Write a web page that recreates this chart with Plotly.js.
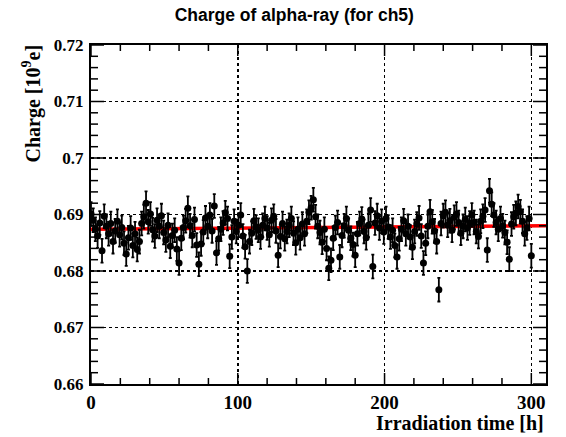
<!DOCTYPE html>
<html>
<head>
<meta charset="utf-8">
<script src="https://cdn.plot.ly/plotly-3.0.1.min.js"></script>
<style>html,body{margin:0;padding:0;background:#fff;}#chart{width:566px;height:437px;}</style>
</head>
<body>
<div id="chart"></div>
<script>
// Irradiation time [h] (one point every 1.5 h)
const timeH = [];
for (let k = 0; k <= 200; k++) timeH.push(k * 1.5);

// Charge [10^9 e] (10 values per row)
const charge = [
  0.6901, 0.6890, 0.6874, 0.6862, 0.6885, 0.6836, 0.6897, 0.6879, 0.6866, 0.6884,
  0.6852, 0.6871, 0.6888, 0.6864, 0.6877, 0.6849, 0.6830, 0.6859, 0.6876, 0.6845,
  0.6866, 0.6838, 0.6852, 0.6884, 0.6896, 0.6920, 0.6887, 0.6901, 0.6873, 0.6862,
  0.6890, 0.6879, 0.6898, 0.6868, 0.6855, 0.6881, 0.6844, 0.6863, 0.6872, 0.6839,
  0.6814, 0.6858, 0.6877, 0.6889, 0.6911, 0.6880, 0.6863, 0.6891, 0.6846, 0.6812,
  0.6848, 0.6869, 0.6894, 0.6879, 0.6899, 0.6871, 0.6915, 0.6832, 0.6857, 0.6874,
  0.6885, 0.6903, 0.6893, 0.6826, 0.6860, 0.6888, 0.6870, 0.6881, 0.6899, 0.6862,
  0.6843, 0.6800, 0.6852, 0.6867, 0.6889, 0.6878, 0.6872, 0.6860, 0.6881, 0.6893,
  0.6876, 0.6864, 0.6890, 0.6897, 0.6871, 0.6828, 0.6861, 0.6884, 0.6857, 0.6870,
  0.6881, 0.6893, 0.6867, 0.6850, 0.6874, 0.6859, 0.6883, 0.6866, 0.6888, 0.6904,
  0.6912, 0.6926, 0.6896, 0.6879, 0.6868, 0.6851, 0.6874, 0.6840, 0.6805, 0.6819,
  0.6858, 0.6877, 0.6886, 0.6825, 0.6863, 0.6880, 0.6893, 0.6872, 0.6858, 0.6847,
  0.6828, 0.6866, 0.6884, 0.6892, 0.6870, 0.6859, 0.6881, 0.6908, 0.6808, 0.6885,
  0.6898, 0.6876, 0.6888, 0.6869, 0.6893, 0.6878, 0.6860, 0.6872, 0.6845, 0.6825,
  0.6857, 0.6874, 0.6889, 0.6866, 0.6879, 0.6860, 0.6842, 0.6870, 0.6883, 0.6894,
  0.6862, 0.6814, 0.6849, 0.6879, 0.6905, 0.6887, 0.6871, 0.6852, 0.6767, 0.6884,
  0.6898, 0.6904, 0.6881, 0.6889, 0.6872, 0.6895, 0.6901, 0.6886, 0.6867, 0.6879,
  0.6891, 0.6876, 0.6885, 0.6899, 0.6886, 0.6870, 0.6861, 0.6888, 0.6897, 0.6908,
  0.6837, 0.6942, 0.6918, 0.6899, 0.6886, 0.6874, 0.6893, 0.6880, 0.6868, 0.6851,
  0.6821, 0.6883, 0.6896, 0.6902, 0.6914, 0.6905, 0.6888, 0.6866, 0.6876, 0.6893,
  0.6827
];
// statistical error on each point
const chargeErr = charge.map(() => 0.0021);

// linear fit line endpoints
const fitX = [0, 310];
const fitY = [0.6874, 0.6880];

// axis ranges and tick positions
const xRange = [0, 310];
const yRange = [0.66, 0.72];
const xMajor = [0, 100, 200, 300];
const xLabels = ['0', '100', '200', '300'];
const yMajor = [0.66, 0.67, 0.68, 0.69, 0.70, 0.71, 0.72];
const yLabels = ['0.66', '0.67', '0.68', '0.69', '0.7', '0.71', '0.72'];
const xMinor = [];
for (let v = 20; v <= 300; v += 20) if (v % 100 !== 0) xMinor.push(v);
const yMinor = [];
for (let i = 1; i < 30; i++) if (i % 5 !== 0) yMinor.push(+(0.66 + i * 0.002).toFixed(3));

const serif = 'Liberation Serif, Times New Roman, serif';

const traces = [
  {
    x: fitX, y: fitY, type: 'scatter', mode: 'lines',
    line: {color: '#ff0000', width: 3.5}, showlegend: false
  },
  {
    x: timeH, y: charge, type: 'scatter', mode: 'markers',
    marker: {color: '#000', size: 7},
    error_y: {type: 'data', array: chargeErr, visible: true, color: '#000', thickness: 1.8, width: 1.5},
    showlegend: false
  }
];

// tick marks (inside, on all four sides) drawn as pixel-sized shapes anchored on the axes
const shapes = [];
const tl = {color: '#000', width: 1.5};
function xTick(v, len) {
  shapes.push({type: 'line', xref: 'x', yref: 'paper', ysizemode: 'pixel', yanchor: 0, x0: v, x1: v, y0: 0, y1: len, line: tl, layer: 'above'});
  shapes.push({type: 'line', xref: 'x', yref: 'paper', ysizemode: 'pixel', yanchor: 1, x0: v, x1: v, y0: 0, y1: -len, line: tl, layer: 'above'});
}
function yTick(v, len) {
  shapes.push({type: 'line', xref: 'paper', yref: 'y', xsizemode: 'pixel', xanchor: 0, y0: v, y1: v, x0: 0, x1: len, line: tl, layer: 'above'});
  shapes.push({type: 'line', xref: 'paper', yref: 'y', xsizemode: 'pixel', xanchor: 1, y0: v, y1: v, x0: 0, x1: -len, line: tl, layer: 'above'});
}
xMajor.forEach(v => xTick(v, 11));
xMinor.forEach(v => xTick(v, 6));
yMajor.forEach(v => yTick(v, 13));
yMinor.forEach(v => yTick(v, 7));

const layout = {
  width: 566, height: 437,
  margin: {l: 91, r: 20, t: 45, b: 53},
  paper_bgcolor: '#fff', plot_bgcolor: '#fff',
  title: {
    text: '<b>Charge of alpha-ray (for ch5)</b>',
    font: {family: 'Liberation Sans, Arial, sans-serif', size: 17.5, color: '#000'},
    x: 0.52, xanchor: 'center', y: 0.965, yanchor: 'middle'
  },
  xaxis: {
    range: xRange, tickmode: 'array', tickvals: xMajor, ticktext: xLabels, ticks: '',
    showline: true, linecolor: '#000', linewidth: 2, mirror: true, zeroline: false,
    showgrid: true, gridcolor: '#000', griddash: 'dot', gridwidth: 1.5,
    tickfont: {family: serif, size: 19, color: '#000', weight: 'bold'}, ticklabelstandoff: 0
  },
  yaxis: {
    range: yRange, tickmode: 'array', tickvals: yMajor, ticktext: yLabels, ticks: '',
    showline: true, linecolor: '#000', linewidth: 2, mirror: true, zeroline: false,
    showgrid: true, gridcolor: '#000', griddash: 'dot', gridwidth: 1.5,
    tickfont: {family: serif, size: 17, color: '#000', weight: 'bold'}, ticklabelstandoff: 2
  },
  shapes: shapes,
  annotations: [
    {
      text: '<b>Irradiation time [h]</b>', xref: 'paper', yref: 'paper',
      x: 1.0, y: -0.153, xanchor: 'right', yanchor: 'bottom', showarrow: false,
      font: {family: serif, size: 20, color: '#000'}
    },
    {
      text: '<b>Charge [10<sup>9</sup>e]</b>', xref: 'paper', yref: 'paper',
      x: -0.13, y: 1.007, xanchor: 'center', yanchor: 'top', textangle: -90, showarrow: false,
      font: {family: serif, size: 20, color: '#000'}
    }
  ]
};

Plotly.newPlot('chart', traces, layout, {staticPlot: true, displayModeBar: false});
</script>
</body>
</html>
